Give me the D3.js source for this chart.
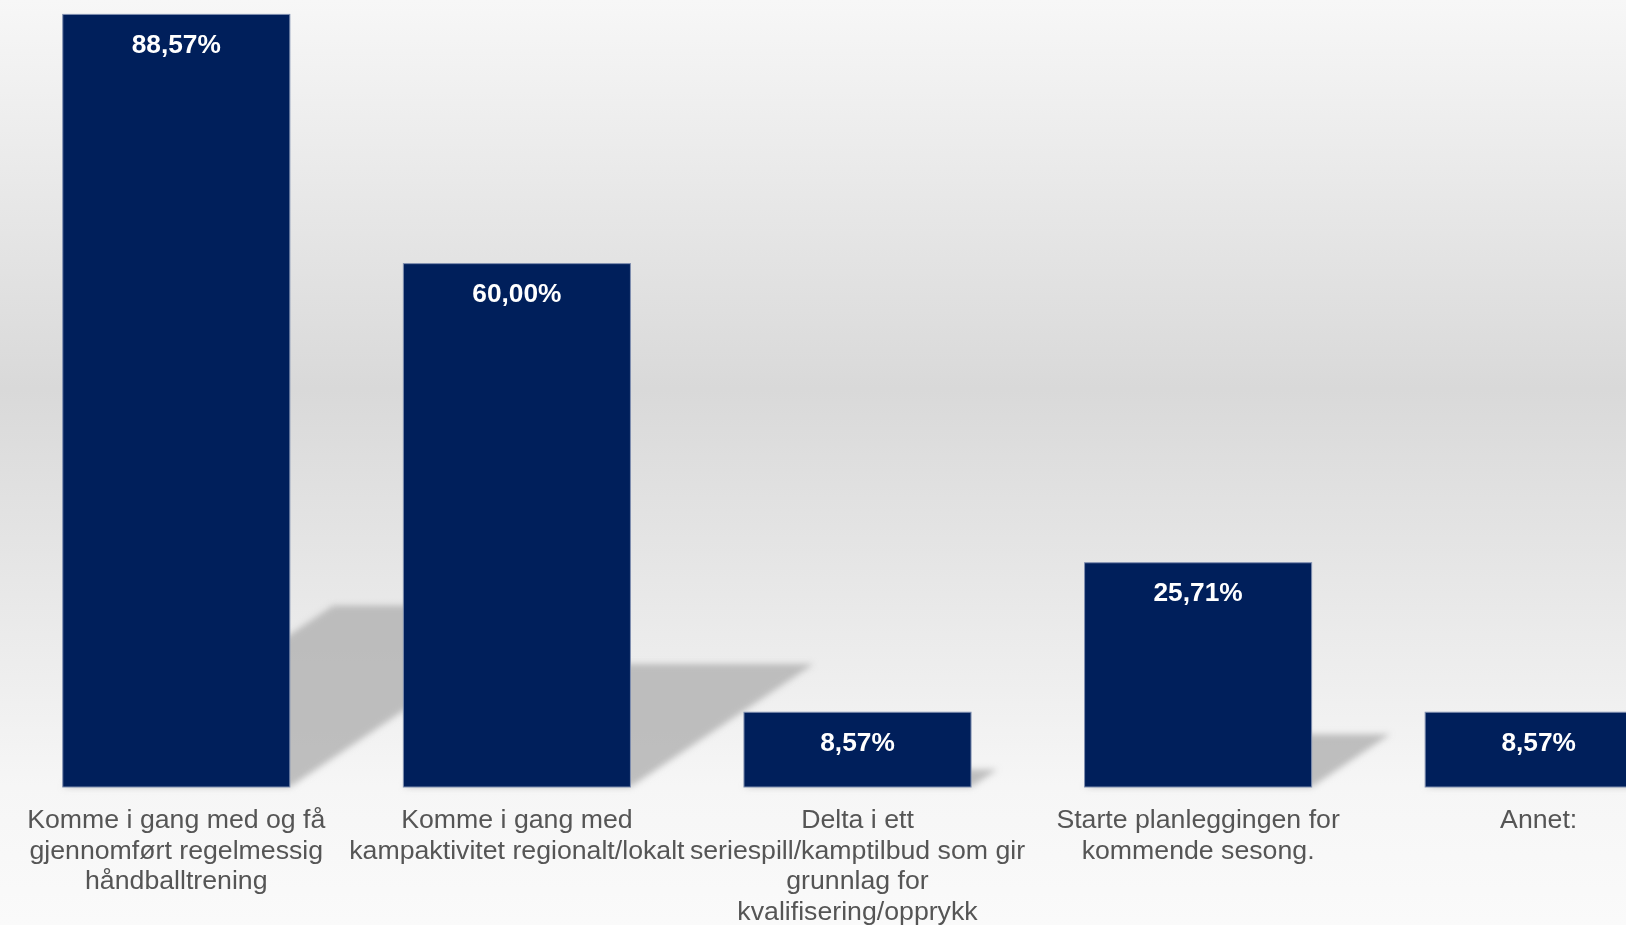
<!DOCTYPE html>
<html>
<head>
<meta charset="utf-8">
<script src="https://cdn.jsdelivr.net/npm/d3@7"></script>
<style>
  html, body { margin: 0; padding: 0; overflow: hidden; }
  svg { display: block; }
</style>
</head>
<body>
<div id="chart"></div>
<script>
var categories = [
    "Komme i gang med og få gjennomført regelmessig håndballtrening",
    "Komme i gang med kampaktivitet regionalt/lokalt",
    "Delta i ett seriespill/kamptilbud som gir grunnlag for kvalifisering/opprykk",
    "Starte planleggingen for kommende sesong.",
    "Annet:"
];
var labelLines = [
    ["Komme i gang med og få", "gjennomført regelmessig", "håndballtrening"],
    ["Komme i gang med", "kampaktivitet regionalt/lokalt"],
    ["Delta i ett", "seriespill/kamptilbud som gir", "grunnlag for", "kvalifisering/opprykk"],
    ["Starte planleggingen for", "kommende sesong."],
    ["Annet:"]
];
var values = [88.57, 60.00, 8.57, 25.71, 8.57];
var valueLabels = ["88,57%", "60,00%", "8,57%", "25,71%", "8,57%"];

function drawChart() {
    var svgWidth = 1626;
    var svgHeight = 925;
    var baseline = 787;

    var svg = d3.select("#chart")
        .append("svg")
        .attr("width", svgWidth)
        .attr("height", svgHeight);

    var defs = svg.append("defs");

    var bg = defs.append("linearGradient")
        .attr("id", "bg")
        .attr("x1", 0).attr("y1", 0)
        .attr("x2", 0).attr("y2", 1);
    bg.append("stop").attr("offset", "0%").attr("stop-color", "#f7f7f7");
    bg.append("stop").attr("offset", "42%").attr("stop-color", "#d9d9d9");
    bg.append("stop").attr("offset", "85%").attr("stop-color", "#f6f6f6");
    bg.append("stop").attr("offset", "100%").attr("stop-color", "#fafafa");

    defs.append("filter")
        .attr("id", "blur")
        .attr("x", "-20%").attr("y", "-20%")
        .attr("width", "140%").attr("height", "140%")
        .append("feGaussianBlur")
        .attr("stdDeviation", 3);

    svg.append("rect")
        .attr("width", svgWidth)
        .attr("height", svgHeight)
        .attr("fill", "url(#bg)");

    // band range runs past the right edge, last bar is cut off like the original
    var xScale = d3.scaleBand()
        .domain(categories)
        .range([6, 1709])
        .paddingInner(1 / 3)
        .paddingOuter(1 / 6);

    var yScale = d3.scaleLinear()
        .domain([0, 100])
        .range([baseline, baseline - 872.3]);

    // floor shadows, skewed back to the right
    svg.append("g")
        .attr("filter", "url(#blur)")
        .selectAll("path")
        .data(values)
        .enter()
        .append("path")
        .attr("fill", "#b4b4b4")
        .attr("opacity", 0.85)
        .attr("d", function(d, i) {
            var x0 = xScale(categories[i]);
            var x1 = x0 + xScale.bandwidth();
            var h = yScale(0) - yScale(d);
            var dx = h * 0.35;
            var s = h * 0.235;
            return "M" + x0 + "," + baseline +
                   "L" + x1 + "," + baseline +
                   "L" + (x1 + dx) + "," + (baseline - s) +
                   "L" + (x0 + dx) + "," + (baseline - s) + "Z";
        });

    svg.append("g")
        .selectAll("rect")
        .data(values)
        .enter()
        .append("rect")
        .attr("x", (d, i) => xScale(categories[i]))
        .attr("y", d => yScale(d))
        .attr("width", xScale.bandwidth())
        .attr("height", d => yScale(0) - yScale(d))
        .attr("fill", "#001f5b")
        .attr("stroke", "#7f8fb0")
        .attr("stroke-width", 1);

    svg.append("g")
        .selectAll("text")
        .data(values)
        .enter()
        .append("text")
        .attr("x", (d, i) => xScale(categories[i]) + xScale.bandwidth() / 2)
        .attr("y", d => yScale(d) + 38.5)
        .attr("text-anchor", "middle")
        .attr("fill", "#ffffff")
        .attr("font-family", "Liberation Sans, Arial, sans-serif")
        .attr("font-weight", "bold")
        .attr("font-size", "26.3px")
        .text((d, i) => valueLabels[i]);

    var catLabels = svg.append("g")
        .selectAll("text")
        .data(categories)
        .enter()
        .append("text")
        .attr("x", d => xScale(d) + xScale.bandwidth() / 2)
        .attr("y", 828)
        .attr("text-anchor", "middle")
        .attr("fill", "#555555")
        .attr("font-family", "Liberation Sans, Arial, sans-serif")
        .attr("font-size", "26.7px");

    catLabels.selectAll("tspan")
        .data((d, i) => labelLines[i])
        .enter()
        .append("tspan")
        .attr("x", function() { return d3.select(this.parentNode).attr("x"); })
        .attr("dy", (d, j) => j === 0 ? 0 : 30.6)
        .text(d => d);
}

drawChart();
</script>
</body>
</html>
